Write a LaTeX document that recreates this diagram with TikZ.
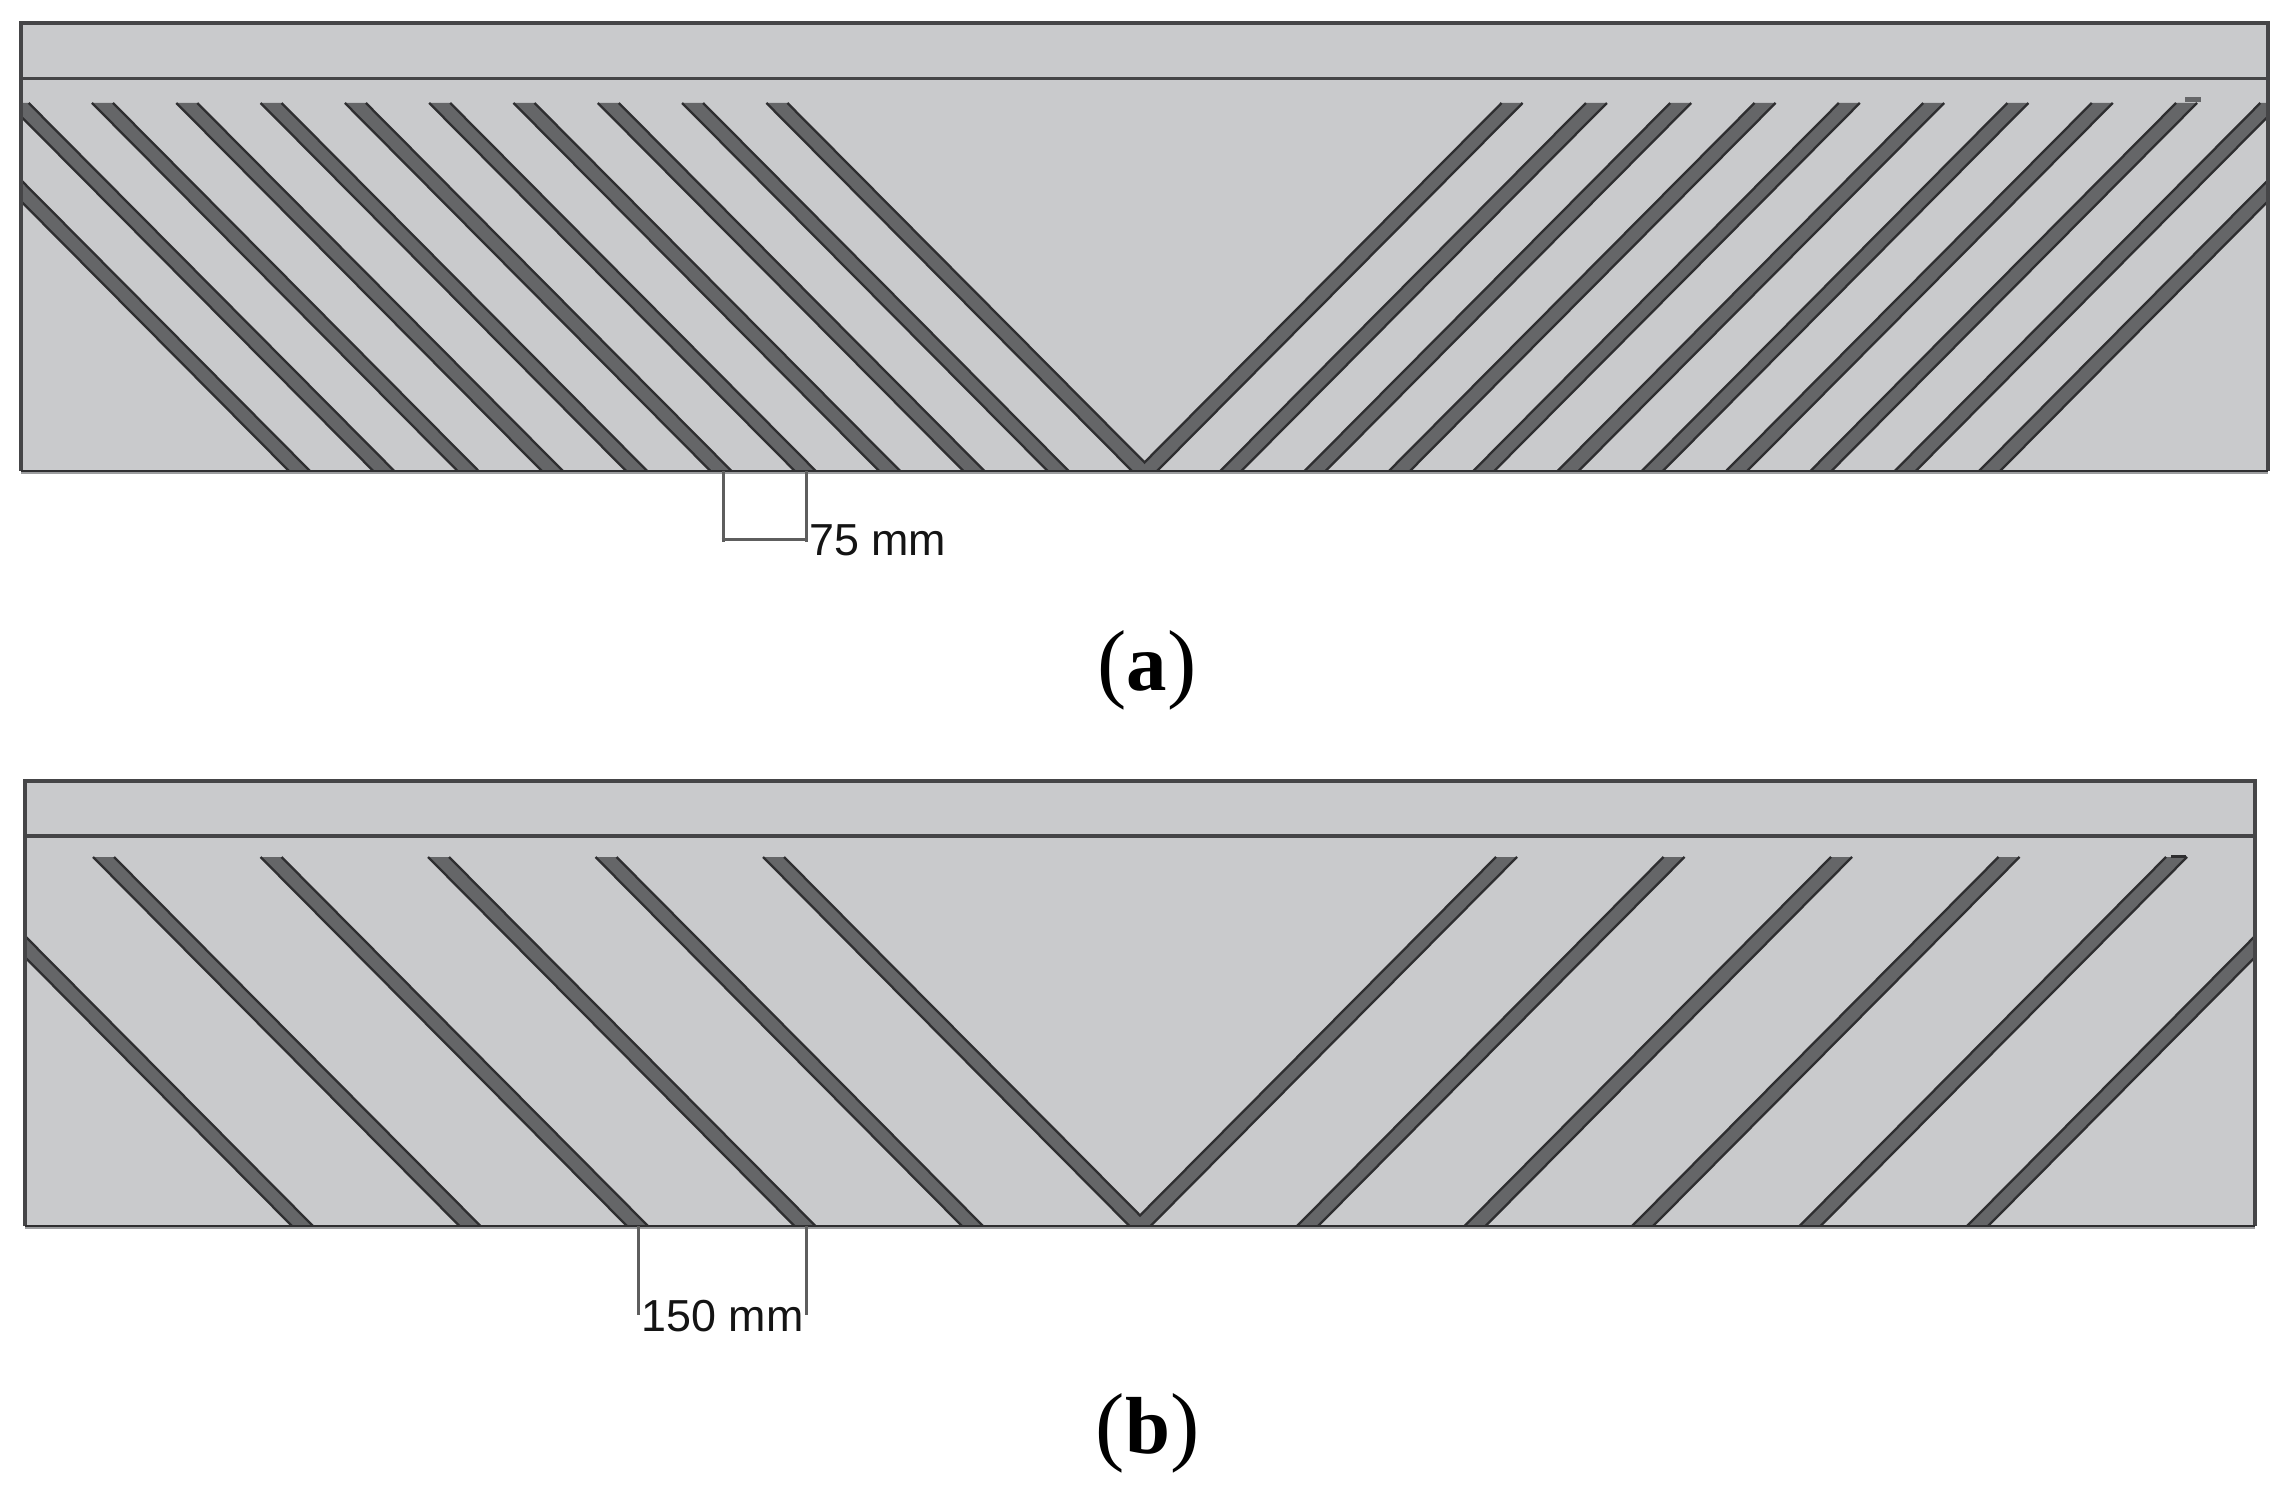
\documentclass[tikz,border=0pt]{standalone}
\usepackage{fontspec}
\setmainfont{Liberation Serif}
\newfontfamily\dimfont{Liberation Sans}
\definecolor{panelgrey}{HTML}{C9CACC}
\definecolor{stripgrey}{HTML}{656668}
\definecolor{edgedark}{HTML}{2E2E30}
\definecolor{borderdark}{HTML}{454547}
\definecolor{dimgrey}{HTML}{5E5E5E}
\definecolor{baseband}{HTML}{9C9D9F}
\tikzset{
  px/.style={line width=#1*0.01cm},
  panel/.style={fill=panelgrey},
  panelborder/.style={draw=borderdark,px=3.2},
  baseline rule/.style={draw=edgedark,px=2.4},
  baseband rule/.style={draw=baseband,px=3},
  stripfill/.style={fill=stripgrey},
  stripedge/.style={draw=edgedark,px=2.3},
  dimline/.style={draw=dimgrey,px=3},
  dimlabel/.style={inner sep=0pt,anchor=base west,text=black!92,font=\dimfont\fontsize{12.75}{14}\selectfont},
  caption/.style={inner sep=0pt,anchor=base,text=black,font=\fontsize{23}{26}\selectfont},
}
\newcommand{\stripbody}[6]{% x at top-left, width, top y, bottom y, drop, mirror sum
  \path[stripfill] ({#1},#3) -- ({#1+#2},#3) -- ({#1+#2+#5},#4) -- ({#1+#5},#4) -- cycle;
  \path[stripfill] ({#6-#1},#3) -- ({#6-#1-#2},#3) -- ({#6-#1-#2-#5},#4) -- ({#6-#1-#5},#4) -- cycle;
}
\newcommand{\stripedges}[6]{%
  \path[stripedge] ({#1},#3) -- ({#1+#5},#4);
  \path[stripedge] ({#1+#2},#3) -- ({#1+#2+#5},#4);
  \path[stripedge] ({#6-#1},#3) -- ({#6-#1-#5},#4);
  \path[stripedge] ({#6-#1-#2},#3) -- ({#6-#1-#2-#5},#4);
}
\newcommand{\capparen}[1]{{\fontsize{25}{26}\selectfont\raisebox{-0.4pt}{#1}}}
\begin{document}
\begin{tikzpicture}[x=0.01cm,y=-0.01cm]
\useasboundingbox (0,0) rectangle (2286,1495);
\fill[white] (0,0) rectangle (2286,1495);

% ---------- panel (a)
\path[panel] (21,23) rectangle (2268,471);
\begin{scope}
  \clip (21,23) rectangle (2268,471);
  \foreach \i in {-2,...,8} {
    \pgfmathsetmacro\xt{92+84.3*\i}
    \stripbody{\xt}{21}{103}{471}{365.6}{2289}
  }
  \foreach \i in {-2,...,7} {
    \pgfmathsetmacro\xt{92+84.3*\i}
    \stripedges{\xt}{21}{103}{471}{365.6}{2289}
  }
  % the two strips that meet in the V
  \path[stripedge] (766.4,103) -- (1132,471);
  \path[stripedge] (2289-766.4,103) -- (1157,471);
  \path[stripedge] (787.4,103) -- (1144.5,462.4) -- (2289-787.4,103);
  \path[stripfill] (2185,97) rectangle (2201,102);
\end{scope}
\path[baseband rule] (21,472.5) -- (2268,472.5);
\path[panelborder] (21,471) -- (21,23) -- (2268,23) -- (2268,471);
\path[baseline rule] (21,471) -- (2268,471);
\path[panelborder] (21,78.5) -- (2268,78.5);

\coordinate (a1t) at (723,471);
\coordinate (a1b) at (723,542);
\coordinate (a2t) at (806.5,471);
\coordinate (a2b) at (806.5,542);
\coordinate (ahl) at (721.5,539.5);
\coordinate (ahr) at (808,539.5);
\path[dimline] (a1t) -- (a1b);
\path[dimline] (a2t) -- (a2b);
\path[dimline] (ahl) -- (ahr);
\node[dimlabel] (lab75) at (808.5,555.5) {75 mm};
\node[caption] (capa) at (1147,690) {\capparen{(}\textbf{a}\capparen{)}};

% ---------- panel (b)
\path[panel] (25,781) rectangle (2255,1226);
\begin{scope}
  \clip (25,781) rectangle (2255,1226);
  \foreach \i in {-1,...,4} {
    \pgfmathsetmacro\xt{93+167.5*\i}
    \stripbody{\xt}{21}{857}{1226}{366.5}{2280}
  }
  \foreach \i in {-1,...,3} {
    \pgfmathsetmacro\xt{93+167.5*\i}
    \stripedges{\xt}{21}{857}{1226}{366.5}{2280}
  }
  % the two strips that meet in the V
  \path[stripedge] (763,857) -- (1129.5,1226);
  \path[stripedge] (2280-763,857) -- (1150.5,1226);
  \path[stripedge] (784,857) -- (1140,1215.4) -- (2280-784,857);
  \path[draw=edgedark,px=2.4] (2171,856.5) -- (2186,856.5);
\end{scope}
\path[baseband rule] (25,1227.5) -- (2255,1227.5);
\path[panelborder] (25,1226) -- (25,781) -- (2255,781) -- (2255,1226);
\path[baseline rule] (25,1226) -- (2255,1226);
\path[panelborder] (25,836) -- (2255,836);

\coordinate (b1t) at (638,1226);
\coordinate (b1b) at (638,1315);
\coordinate (b2t) at (806,1226);
\coordinate (b2b) at (806,1315);
\path[dimline] (b1t) -- (b1b);
\path[dimline] (b2t) -- (b2b);
\node[dimlabel] (lab150) at (641,1331) {150 mm};
\node[caption] (capb) at (1147.5,1453) {\capparen{(}\textbf{b}\capparen{)}};
\end{tikzpicture}
\end{document}
